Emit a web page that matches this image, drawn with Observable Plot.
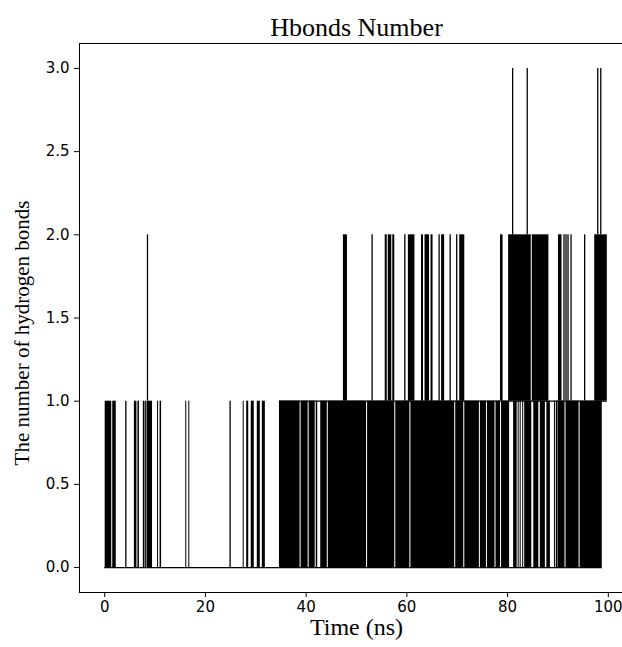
<!DOCTYPE html>
<html>
<head>
<meta charset="utf-8">
<script src="https://cdn.jsdelivr.net/npm/d3@7"></script>
<script src="https://cdn.jsdelivr.net/npm/@observablehq/plot@0.6"></script>
<style>
  html, body { margin: 0; padding: 0; background: #fff; overflow: hidden; }
  #chart { width: 640px; }
  #chart svg { display: block; max-width: none !important; width: 640px; height: 647px; }
</style>
</head>
<body>
<div id="chart"></div>
<script>
// ---- chart texts ----
const titleText = "Hbonds Number";
const xLabelText = "Time (ns)";
const yLabelText = "The number of hydrogen bonds";

// ---- tick values ----
const timeTicks = [0, 20, 40, 60, 80, 100];
const countTicks = [0, 0.5, 1, 1.5, 2, 2.5, 3];

// ---- time intervals (ns) where the H-bond count switches rapidly between 0 and 1 ----
const lowBands = [
  [0.1, 1.4], [1.6, 2.3], [5.9, 6.4], [6.6, 6.9], [8.4, 9.5], [10.5, 10.7], [11.0, 11.3],
  [16.1, 16.3], [16.7, 16.9], [27.5, 27.7], [28.2, 28.6], [29.1, 29.7], [30.3, 30.9], [31.3, 31.9],
  [34.7, 38.8], [39.0, 40.4], [40.6, 41.8], [42.0, 42.3], [42.9, 44.2], [44.4, 52.0], [52.2, 57.6],
  [57.8, 60.6], [60.8, 69.5], [69.7, 71.3], [71.5, 74.4], [74.6, 75.8], [76.0, 77.5], [77.7, 78.6],
  [78.8, 80.4], [81.2, 81.9], [82.1, 82.3], [82.5, 82.7], [83.0, 83.2], [83.4, 84.8], [85.2, 86.2],
  [86.5, 87.5], [87.8, 88.5], [89.3, 89.5], [90.0, 91.4], [91.6, 94.2], [94.4, 98.8]
];
// single short 0 -> 1 events (ns)
const lowSpikes = [4.2, 7.7, 8.05, 24.9, 89.7];

// ---- intervals (ns) where the count switches between 1 and 2 ----
const midBands = [
  [47.4, 48.2], [55.7, 56.1], [56.3, 57.0], [57.2, 57.6], [60.3, 61.6], [62.9, 63.3], [63.6, 64.5],
  [64.8, 65.2], [66.9, 67.5], [70.5, 71.5], [78.6, 79.1], [80.2, 84.7], [84.9, 88.2], [90.1, 90.8],
  [97.3, 99.8]
];
// single short 1 -> 2 events (ns)
const midSpikes = [8.5, 53.1, 59.6, 66.4, 68.6, 69.9, 91.2, 91.6, 92.0, 92.6, 95.3];

// single short 2 -> 3 events (ns)
const highSpikes = [81.0, 83.9, 97.9, 98.5];

// baseline levels held over time: [count, from ns, to ns]
const levelSpans = [[0, 0, 98.8], [1, 34.7, 99.8]];

// ---- tables built from the arrays ----
const bandRows = [
  ...lowBands.map(([a, b]) => ({x1: a, x2: b, y1: 0, y2: 1})),
  ...midBands.map(([a, b]) => ({x1: a, x2: b, y1: 1, y2: 2}))
];
const spikeRows = [
  ...lowSpikes.map(t => ({x: t, y1: 0, y2: 1})),
  ...midSpikes.map(t => ({x: t, y1: 1, y2: 2})),
  ...highSpikes.map(t => ({x: t, y1: 2, y2: 3}))
];
const levelRows = levelSpans.map(([v, a, b]) => ({y: v, x1: a, x2: b}));

const serif = "'Liberation Serif', 'Times New Roman', serif";

const chart = Plot.plot({
  width: 640,
  height: 647,
  marginLeft: 79,
  marginRight: 7,
  marginTop: 43,
  marginBottom: 55,
  style: {fontFamily: "'DejaVu Sans', sans-serif", fontSize: "14.5px", color: "#000", background: "#fff"},
  x: {domain: [-5, 105], label: null},
  y: {domain: [-0.15, 3.15], label: null},
  marks: [
    Plot.rect(bandRows, {x1: "x1", x2: "x2", y1: "y1", y2: "y2", fill: "#000"}),
    Plot.ruleX(spikeRows, {x: "x", y1: "y1", y2: "y2", stroke: "#000", strokeWidth: 1.3}),
    Plot.ruleY(levelRows, {y: "y", x1: "x1", x2: "x2", stroke: "#000", strokeWidth: 1.3}),
    Plot.frame({stroke: "#000", strokeWidth: 1}),
    Plot.axisX({ticks: timeTicks, tickFormat: d => String(d), tickSize: 5, tickPadding: 4, fontSize: 15}),
    Plot.axisY({ticks: countTicks, tickFormat: d3.format(".1f"), tickSize: 5, tickPadding: 5, fontSize: 15}),
    Plot.text([titleText], {frameAnchor: "top", dy: -16, lineAnchor: "middle", text: d => d, fontFamily: serif, fontSize: 26, fill: "#000"}),
    Plot.text([xLabelText], {frameAnchor: "bottom", dy: 35, lineAnchor: "middle", text: d => d, fontFamily: serif, fontSize: 24, fill: "#000"}),
    Plot.text([yLabelText], {frameAnchor: "left", dx: -57, dy: 15, rotate: -90, textAnchor: "middle", lineAnchor: "middle", text: d => d, fontFamily: serif, fontSize: 21, fill: "#000"})
  ]
});
chart.style.maxWidth = "none";
document.getElementById("chart").appendChild(chart);
</script>
</body>
</html>
